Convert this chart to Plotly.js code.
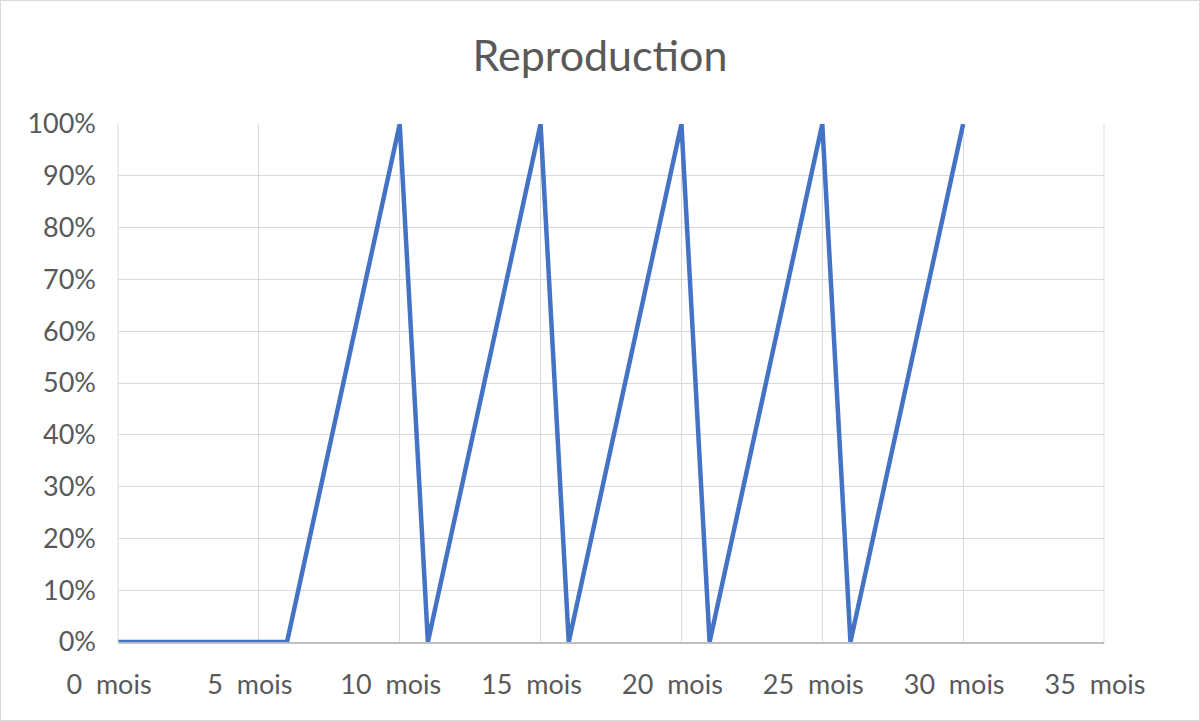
<!DOCTYPE html>
<html>
<head>
<meta charset="utf-8">
<script src="https://cdn.plot.ly/plotly-3.0.1.min.js"></script>
<style>
html,body{margin:0;padding:0;background:#fff;}
#wrap{width:1200px;height:721px;box-sizing:border-box;border:1px solid #d9d9d9;overflow:hidden;}
#chart{width:1198px;height:719px;}
</style>
</head>
<body>
<div id="wrap"><div id="chart"></div></div>
<script>
const months = [0, 6, 10, 11, 15, 16, 20, 21, 25, 26, 30];
const reproduction = [0, 0, 1, 0, 1, 0, 1, 0, 1, 0, 1];
const xTickVals = [0, 5, 10, 15, 20, 25, 30, 35];
const xTickText = xTickVals.map(v => v + '\u00a0\u00a0mois');
const yTickVals = [0, 0.1, 0.2, 0.3, 0.4, 0.5, 0.6, 0.7, 0.8, 0.9, 1];
const titleText = 'Reproduction';

const fontFam = 'Lato, "Open Sans", sans-serif';
const trace = {
  x: months,
  y: reproduction,
  type: 'scatter',
  mode: 'lines',
  line: {color: '#4472C4', width: 4.5},
  hoverinfo: 'skip'
};
const layout = {
  width: 1198, height: 719,
  margin: {l: 117, r: 95, t: 123, b: 78},
  paper_bgcolor: '#ffffff',
  plot_bgcolor: '#ffffff',
  showlegend: false,
  font: {family: fontFam, color: '#595959', size: 27},
  title: {text: titleText, font: {family: fontFam, size: 43, color: '#595959'}, x: 0.5, xanchor: 'center', y: 0.924, yanchor: 'middle'},
  xaxis: {
    range: [0, 35], tickvals: xTickVals, ticktext: xTickText,
    showgrid: true, gridcolor: '#d9d9d9', gridwidth: 1,
    zeroline: false, showline: true, linecolor: '#bfbfbf', linewidth: 1.5,
    ticks: '', ticklabelstandoff: 18, ticklabelshift: -9, fixedrange: true,
    tickfont: {family: fontFam, size: 27, color: '#595959'}
  },
  yaxis: {
    range: [0, 1], tickvals: yTickVals, tickformat: '.0%',
    showgrid: true, gridcolor: '#d9d9d9', gridwidth: 1,
    zeroline: false, showline: false, ticks: '', ticklabelstandoff: 21, fixedrange: true,
    tickfont: {family: fontFam, size: 27, color: '#595959'}
  },
  shapes: [
    {type: 'line', xref: 'paper', yref: 'paper', x0: 1, x1: 1, y0: 0, y1: 1, line: {color: '#d9d9d9', width: 1}},
    {type: 'line', xref: 'paper', yref: 'paper', x0: 0, x1: 0, y0: 0, y1: 1, line: {color: '#d9d9d9', width: 1}}
  ]
};
Plotly.newPlot('chart', [trace], layout, {displayModeBar: false, staticPlot: true});
</script>
</body>
</html>
